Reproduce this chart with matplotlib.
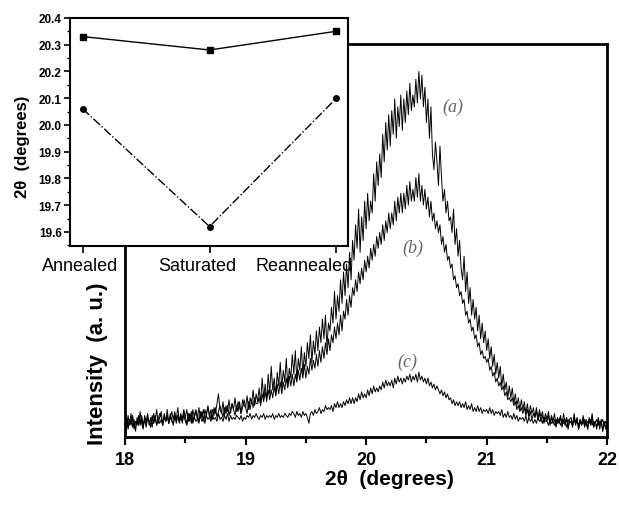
import numpy as np
import matplotlib
matplotlib.use("Agg")
import matplotlib.pyplot as plt
from matplotlib.ticker import MultipleLocator, FormatStrFormatter

# ---- data ----
two_theta_start = 18.0
two_theta_step = 0.0125

intensity_a = [
    0.04, 0.02, 0.055, 0.03, 0.06, 0.025, 0.045, 0.015,
    0.05, 0.03, 0.065, 0.035, 0.02, 0.055, 0.04, 0.06,
    0.03, 0.05, 0.025, 0.06, 0.04, 0.07, 0.035, 0.05,
    0.065, 0.03, 0.055, 0.04, 0.07, 0.035, 0.06, 0.045,
    0.03, 0.06, 0.045, 0.075, 0.04, 0.055, 0.035, 0.065,
    0.05, 0.07, 0.04, 0.06, 0.035, 0.07, 0.05, 0.065,
    0.045, 0.075, 0.05, 0.065, 0.04, 0.07, 0.055, 0.08,
    0.05, 0.07, 0.045, 0.075, 0.06, 0.085, 0.11, 0.07,
    0.06, 0.09, 0.055, 0.08, 0.065, 0.095, 0.06, 0.085,
    0.07, 0.1, 0.065, 0.09, 0.075, 0.06, 0.095, 0.08,
    0.075, 0.105, 0.07, 0.1, 0.085, 0.12, 0.08, 0.11,
    0.09, 0.125, 0.085, 0.15, 0.1, 0.135, 0.09, 0.16,
    0.11, 0.18, 0.12, 0.15, 0.105, 0.165, 0.13, 0.19,
    0.125, 0.17, 0.14, 0.2, 0.13, 0.175, 0.15, 0.21,
    0.16, 0.22, 0.145, 0.2, 0.17, 0.23, 0.16, 0.215,
    0.18, 0.24, 0.2, 0.26, 0.19, 0.245, 0.21, 0.27,
    0.22, 0.28, 0.24, 0.3, 0.25, 0.31, 0.23, 0.29,
    0.27, 0.33, 0.29, 0.37, 0.3, 0.36, 0.32, 0.4,
    0.34, 0.42, 0.36, 0.44, 0.38, 0.47, 0.4, 0.5,
    0.45, 0.54, 0.48, 0.58, 0.47, 0.56, 0.5, 0.6,
    0.53, 0.62, 0.55, 0.6, 0.57, 0.67, 0.6, 0.7,
    0.64, 0.72, 0.66, 0.77, 0.7, 0.8, 0.73, 0.82,
    0.74, 0.83, 0.77, 0.86, 0.76, 0.84, 0.79, 0.87,
    0.78, 0.86, 0.8, 0.88, 0.82, 0.9, 0.83, 0.87,
    0.84, 0.91, 0.85, 0.93, 0.86, 0.92, 0.84, 0.89,
    0.8, 0.86, 0.76, 0.84, 0.72, 0.68, 0.75, 0.7,
    0.64, 0.74, 0.66, 0.6, 0.63, 0.57, 0.6, 0.55,
    0.56, 0.52, 0.58, 0.49, 0.53, 0.46, 0.5, 0.43,
    0.4, 0.46, 0.37, 0.42, 0.34, 0.38, 0.31, 0.35,
    0.3, 0.33, 0.27, 0.31, 0.25, 0.29, 0.24, 0.27,
    0.22, 0.25, 0.2, 0.23, 0.18, 0.21, 0.16, 0.19,
    0.15, 0.18, 0.13, 0.16, 0.12, 0.14, 0.1, 0.13,
    0.1, 0.125, 0.085, 0.11, 0.08, 0.1, 0.07, 0.095,
    0.07, 0.09, 0.06, 0.085, 0.055, 0.08, 0.06, 0.075,
    0.05, 0.075, 0.045, 0.07, 0.05, 0.065, 0.04, 0.06,
    0.045, 0.065, 0.035, 0.055, 0.04, 0.06, 0.03, 0.05,
    0.04, 0.055, 0.03, 0.06, 0.035, 0.05, 0.025, 0.045,
    0.05, 0.03, 0.06, 0.035, 0.05, 0.02, 0.045, 0.03,
    0.055, 0.03, 0.045, 0.02, 0.05, 0.035, 0.06, 0.025,
    0.04, 0.02, 0.05, 0.03, 0.045, 0.015, 0.04, 0.025,
    0.035,
]

intensity_b = [
    0.03, 0.05, 0.02, 0.045, 0.035, 0.055, 0.025, 0.04,
    0.035, 0.055, 0.03, 0.05, 0.025, 0.045, 0.035, 0.05,
    0.04, 0.025, 0.055, 0.035, 0.05, 0.03, 0.045, 0.06,
    0.05, 0.03, 0.06, 0.04, 0.055, 0.035, 0.05, 0.065,
    0.045, 0.065, 0.035, 0.055, 0.04, 0.06, 0.045, 0.07,
    0.05, 0.035, 0.06, 0.045, 0.065, 0.04, 0.055, 0.07,
    0.055, 0.04, 0.065, 0.05, 0.07, 0.045, 0.06, 0.075,
    0.06, 0.045, 0.07, 0.055, 0.075, 0.05, 0.065, 0.08,
    0.065, 0.05, 0.075, 0.06, 0.08, 0.055, 0.07, 0.085,
    0.07, 0.055, 0.08, 0.065, 0.09, 0.06, 0.075, 0.095,
    0.075, 0.06, 0.09, 0.07, 0.095, 0.075, 0.1, 0.085,
    0.085, 0.1, 0.08, 0.11, 0.09, 0.115, 0.095, 0.12,
    0.095, 0.12, 0.1, 0.13, 0.105, 0.135, 0.11, 0.14,
    0.11, 0.14, 0.12, 0.15, 0.125, 0.155, 0.13, 0.16,
    0.13, 0.16, 0.14, 0.17, 0.145, 0.175, 0.15, 0.185,
    0.15, 0.18, 0.16, 0.2, 0.17, 0.195, 0.175, 0.21,
    0.18, 0.22, 0.19, 0.23, 0.2, 0.24, 0.21, 0.25,
    0.22, 0.26, 0.24, 0.28, 0.25, 0.29, 0.26, 0.31,
    0.27, 0.32, 0.3, 0.35, 0.31, 0.36, 0.33, 0.38,
    0.36, 0.4, 0.37, 0.42, 0.39, 0.43, 0.4, 0.45,
    0.42, 0.46, 0.43, 0.48, 0.45, 0.49, 0.46, 0.51,
    0.48, 0.52, 0.49, 0.54, 0.5, 0.55, 0.52, 0.57,
    0.53, 0.57, 0.54, 0.6, 0.55, 0.61, 0.57, 0.62,
    0.57, 0.62, 0.58, 0.64, 0.59, 0.65, 0.6, 0.63,
    0.6, 0.66, 0.61, 0.67, 0.6, 0.64, 0.59, 0.63,
    0.58, 0.61, 0.56, 0.6, 0.55, 0.57, 0.53, 0.55,
    0.52, 0.54, 0.49, 0.51, 0.47, 0.49, 0.45, 0.46,
    0.43, 0.44, 0.4, 0.41, 0.38, 0.39, 0.36, 0.37,
    0.34, 0.35, 0.31, 0.32, 0.29, 0.3, 0.27, 0.28,
    0.25, 0.26, 0.23, 0.24, 0.21, 0.22, 0.2, 0.205,
    0.19, 0.2, 0.17, 0.18, 0.155, 0.165, 0.14, 0.15,
    0.13, 0.14, 0.12, 0.13, 0.105, 0.115, 0.095, 0.1,
    0.09, 0.1, 0.08, 0.09, 0.07, 0.08, 0.065, 0.075,
    0.06, 0.075, 0.055, 0.07, 0.05, 0.065, 0.045, 0.06,
    0.05, 0.065, 0.045, 0.06, 0.04, 0.055, 0.035, 0.05,
    0.04, 0.055, 0.03, 0.05, 0.035, 0.045, 0.025, 0.045,
    0.035, 0.05, 0.025, 0.045, 0.03, 0.05, 0.02, 0.04,
    0.04, 0.025, 0.05, 0.03, 0.045, 0.02, 0.04, 0.03,
    0.045, 0.025, 0.04, 0.02, 0.045, 0.03, 0.05, 0.025,
    0.04, 0.025, 0.045, 0.02, 0.04, 0.015, 0.035, 0.02,
    0.03,
]

intensity_c = [
    0.035, 0.05, 0.025, 0.045, 0.03, 0.05, 0.02, 0.04,
    0.03, 0.05, 0.035, 0.055, 0.03, 0.045, 0.025, 0.05,
    0.04, 0.03, 0.05, 0.035, 0.055, 0.03, 0.045, 0.035,
    0.045, 0.03, 0.05, 0.04, 0.055, 0.035, 0.05, 0.04,
    0.035, 0.05, 0.04, 0.055, 0.035, 0.05, 0.04, 0.055,
    0.04, 0.03, 0.05, 0.04, 0.055, 0.035, 0.05, 0.04,
    0.045, 0.035, 0.055, 0.04, 0.05, 0.035, 0.055, 0.045,
    0.05, 0.04, 0.055, 0.045, 0.05, 0.04, 0.06, 0.045,
    0.05, 0.04, 0.055, 0.045, 0.06, 0.04, 0.055, 0.045,
    0.05, 0.045, 0.055, 0.05, 0.045, 0.055, 0.04, 0.05,
    0.045, 0.055, 0.05, 0.06, 0.045, 0.055, 0.05, 0.06,
    0.05, 0.045, 0.055, 0.05, 0.06, 0.045, 0.055, 0.05,
    0.055, 0.05, 0.06, 0.045, 0.055, 0.05, 0.06, 0.05,
    0.055, 0.05, 0.06, 0.055, 0.05, 0.06, 0.055, 0.065,
    0.06, 0.05, 0.065, 0.055, 0.06, 0.05, 0.065, 0.055,
    0.06, 0.05, 0.035, 0.06, 0.065, 0.055, 0.07, 0.06,
    0.065, 0.075, 0.06, 0.07, 0.065, 0.08, 0.07, 0.075,
    0.07, 0.08, 0.065, 0.085, 0.075, 0.09, 0.075, 0.085,
    0.075, 0.09, 0.08, 0.095, 0.085, 0.1, 0.085, 0.1,
    0.085, 0.1, 0.09, 0.11, 0.095, 0.115, 0.1, 0.11,
    0.1, 0.12, 0.105, 0.125, 0.11, 0.13, 0.115, 0.125,
    0.115, 0.13, 0.12, 0.14, 0.125, 0.145, 0.13, 0.14,
    0.13, 0.145, 0.125, 0.15, 0.135, 0.155, 0.14, 0.15,
    0.135, 0.15, 0.14, 0.155, 0.145, 0.16, 0.14, 0.155,
    0.145, 0.16, 0.14, 0.165, 0.145, 0.155, 0.14, 0.15,
    0.135, 0.15, 0.13, 0.14, 0.125, 0.135, 0.12, 0.13,
    0.12, 0.11, 0.12, 0.105, 0.115, 0.1, 0.11, 0.095,
    0.1, 0.085, 0.095, 0.08, 0.09, 0.08, 0.09, 0.075,
    0.085, 0.075, 0.09, 0.07, 0.08, 0.07, 0.085, 0.065,
    0.075, 0.065, 0.08, 0.065, 0.075, 0.06, 0.07, 0.065,
    0.07, 0.06, 0.075, 0.06, 0.07, 0.055, 0.065, 0.06,
    0.065, 0.055, 0.07, 0.05, 0.06, 0.05, 0.065, 0.05,
    0.055, 0.045, 0.06, 0.045, 0.055, 0.04, 0.05, 0.045,
    0.05, 0.04, 0.055, 0.035, 0.05, 0.04, 0.045, 0.035,
    0.045, 0.035, 0.05, 0.04, 0.045, 0.035, 0.05, 0.04,
    0.04, 0.03, 0.045, 0.035, 0.04, 0.03, 0.045, 0.035,
    0.04, 0.03, 0.045, 0.035, 0.04, 0.025, 0.045, 0.035,
    0.04, 0.03, 0.045, 0.035, 0.04, 0.03, 0.045, 0.035,
    0.035, 0.045, 0.03, 0.04, 0.035, 0.045, 0.03, 0.04,
    0.035, 0.045, 0.03, 0.04, 0.035, 0.045, 0.03, 0.04,
    0.035,
]

curve_labels = ["(a)", "(b)", "(c)"]
label_positions = [(20.72, 0.84), (20.39, 0.483), (20.34, 0.193)]

inset_categories = ["Annealed", "Saturated", "Reannealed"]
inset_peak1 = [20.33, 20.28, 20.35]
inset_peak2 = [20.06, 19.62, 20.10]

# ---- figure ----
plt.rcParams['font.family'] = ['Liberation Sans', 'DejaVu Sans']
fig = plt.figure(figsize=(6.19, 5.10), dpi=100)

ax = fig.add_axes([0.202, 0.141, 0.779, 0.771])
for ys in (intensity_a, intensity_b, intensity_c):
    xs = two_theta_start + two_theta_step * np.arange(len(ys))
    ax.plot(xs, ys, color='black', lw=0.7)

ax.set_xlim(18, 22)
ax.set_ylim(0, 1)
ax.set_yticks([])
ax.xaxis.set_major_locator(MultipleLocator(1))
ax.xaxis.set_minor_locator(MultipleLocator(0.5))
ax.tick_params(axis='x', which='major', direction='out', length=6, width=1.5,
               labelsize=13, pad=4)
ax.tick_params(axis='x', which='minor', direction='out', length=4, width=1.5)
for lab in ax.get_xticklabels():
    lab.set_fontweight('bold')
for s in ax.spines.values():
    s.set_linewidth(2)
ax.set_xlabel("2θ  (degrees)", fontsize=15, fontweight='bold')
ax.xaxis.set_label_coords(0.548, -0.08)
ax.set_ylabel("Intensity  (a. u.)", fontsize=16, fontweight='bold')
ax.yaxis.set_label_coords(-0.035, 0.19)

for txt, (lx, ly) in zip(curve_labels, label_positions):
    ax.text(lx, ly, txt, fontsize=13, family='Liberation Serif', style='italic',
            color='#666666', ha='center', va='center')

# ---- inset ----
ins = fig.add_axes([0.113, 0.516, 0.449, 0.447])
ins.set_facecolor('white')
xpos = np.arange(len(inset_categories))
ins.plot(xpos, inset_peak1, color='black', lw=1.0, ls='-', marker='s', ms=4)
ins.plot(xpos, inset_peak2, color='black', lw=1.0, ls='-.', marker='o', ms=4)
ins.set_xlim(-0.1, 2.09)
ins.set_ylim(19.548, 20.4)
ins.set_xticks(xpos)
ins.set_xticklabels([])
# category labels, nudged sideways as in the original (offsets in points)
label_shift_pt = [-1.5, -8.5, -23]
for xv, cat, dx in zip(xpos, inset_categories, label_shift_pt):
    ins.annotate(cat, xy=(xv, 0), xycoords=('data', 'axes fraction'),
                 xytext=(dx, -8), textcoords='offset points',
                 ha='center', va='top', fontsize=13, annotation_clip=False)
ins.yaxis.set_major_locator(MultipleLocator(0.1))
ins.yaxis.set_minor_locator(MultipleLocator(0.05))
ins.yaxis.set_major_formatter(FormatStrFormatter('%.1f'))
ins.tick_params(axis='y', which='major', direction='out', length=4, width=1.2,
                labelsize=8.5, pad=2)
ins.tick_params(axis='y', which='minor', direction='out', length=2.5, width=1.0)
ins.tick_params(axis='x', direction='out', length=5, width=1.2, pad=3)
for lab in ins.get_yticklabels():
    lab.set_fontweight('bold')
for s in ins.spines.values():
    s.set_linewidth(1.5)
ins.set_ylabel("2θ  (degrees)", fontsize=12, fontweight='bold')
ins.yaxis.set_label_coords(-0.145, 0.44)

fig.savefig("out.png", dpi=100)
